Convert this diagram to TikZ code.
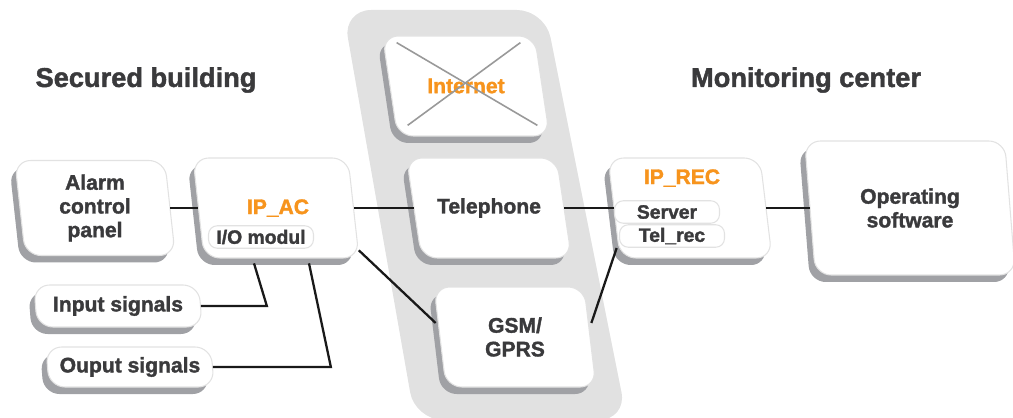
\documentclass[tikz,border=0pt]{standalone}
\usepackage{fontspec}
\setmainfont{Liberation Sans}[BoldFeatures={FakeBold=1.6}]
\usetikzlibrary{calc}

\definecolor{txt}{HTML}{3A3A3C}
\definecolor{orng}{HTML}{F7941D}
\definecolor{shade}{HTML}{A0A1A5}
\definecolor{band}{HTML}{E1E1E1}
\definecolor{rim}{HTML}{E2E2E2}

\tikzset{
  boxface/.style={fill=white, draw=rim, line width=0.6pt, rounded corners=9pt},
  boxshade/.style={fill=shade, rounded corners=9pt},
  boxtext/.style={inner sep=0pt, align=center, text=txt, font=\bfseries\fontsize{12}{13.5}\selectfont},
  subbox/.style={draw=rim, fill=white, line width=0.6pt, rounded corners=5pt, inner sep=0pt,
    minimum width=2.1cm, minimum height=0.45cm, text=txt, font=\bfseries\fontsize{11}{12}\selectfont},
  title/.style={text=txt, font=\bfseries\fontsize{15.5}{17}\selectfont},
  wire/.style={line width=1.3pt, black!90},
  crossline/.style={line width=0.9pt, black!40},
}

% slanted box with shadow: name, x, y, width, height, slant, text
\newcommand{\slbox}[7]{%
  \begin{scope}[shift={(#2,#3)}, xslant=#6]
    \fill[boxshade] ({-#4/2-6},{-#5/2+7}) rectangle ({#4/2-6},{#5/2+7});
    \draw[boxface] ({-#4/2},{-#5/2}) rectangle ({#4/2},{#5/2});
  \end{scope}
  \node[boxtext, minimum width=#4*0.02cm, minimum height=#5*0.02cm] (#1) at (#2,#3) {#7};
}

\begin{document}
\begin{tikzpicture}[x=0.02cm, y=-0.02cm]
    \useasboundingbox (0,0) rectangle (1013,418);

    % band of transmission paths
    \fill[band, rounded corners=16pt] (343,10) -- (545,10) -- (627,420) -- (415,420) -- cycle;

    % titles
    \node[title] (secured) at (146,80) {Secured building};
    \node[title] (monitor) at (806,80) {Monitoring center};

    % secured building
    \slbox{alarm}{95}{208}{150}{95}{-0.11}{Alarm\\control\\panel}
    \slbox{ipac}{276}{208}{155}{100}{-0.11}{}
    \node[boxtext, text=orng] (ipaclbl) at (278,208) {IP\_AC};
    \node[subbox] (iomod) at (261,237) {I/O modul};
    \slbox{insig}{118}{306}{165}{42}{-0.08}{Input signals}
    \slbox{outsig}{130}{367}{165}{40}{-0.08}{Ouput signals}

    % paths
    \slbox{inet}{466}{86}{152}{100}{-0.15}{\textcolor{orng}{Internet}}
    \draw[crossline] ($(inet.north west)+(7,7)$) -- ($(inet.south east)+(-5,-11)$);
    \draw[crossline] ($(inet.north east)+(-22,7)$) -- ($(inet.south west)+(18,-11)$);
    \slbox{tel}{489}{208}{150}{100}{-0.15}{Telephone}
    \slbox{gsm}{515}{337}{150}{100}{-0.12}{GSM/\\GPRS}

    % monitoring center
    \slbox{iprec}{690}{208}{152}{100}{-0.12}{}
    \node[boxtext, text=orng] (ipreclbl) at (682,178) {IP\_REC};
    \node[subbox] (server) at (667,212) {Server};
    \node[subbox] (telrec) at (672,236) {Tel\_rec};
    \slbox{opsw}{910}{208}{200}{134}{-0.08}{Operating\\software}

    % connections
    \draw[wire] (alarm.east) -- (alarm.east -| ipac.west);
    \draw[wire] (ipac.east) -- (tel.west);
    \draw[wire] (tel.east) -- (iprec.west);
    \draw[wire] (iprec.east) -- (iprec.east -| opsw.west);
    \draw[wire] ($(ipac.south east)+(5,-8)$) -- ($(gsm.west)+(-4,-14)$);
    \draw[wire] ($(gsm.east)+(1,-14)$) -- ($(iprec.west)+(3,40)$);
    \draw[wire] (insig.east) -- ++(66,0) -- ($(ipac.south)+(-22,5)$);
    \draw[wire] (outsig.east) -- ++(118,0) -- ($(ipac.south)+(33,5)$);
\end{tikzpicture}
\end{document}
